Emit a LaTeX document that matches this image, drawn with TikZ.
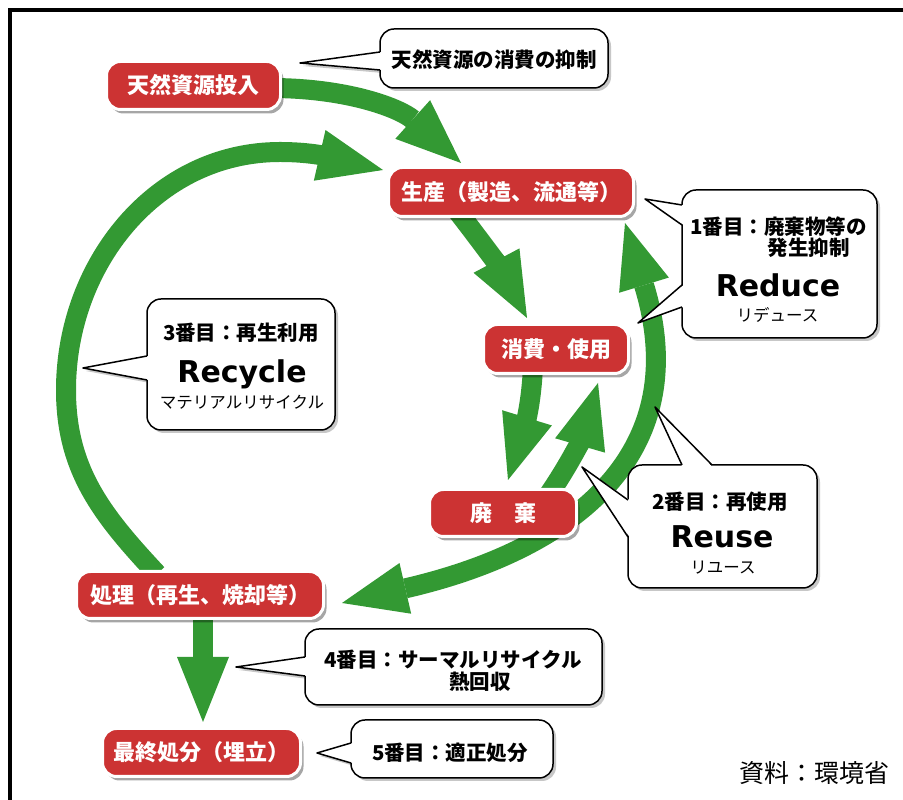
\documentclass[tikz,border=0pt]{standalone}
\usepackage{fontspec}
\newfontfamily\jpfont{Noto Sans CJK JP}
\newfontfamily\latbold{DejaVu Sans}
\usetikzlibrary{arrows.meta,calc,shadows,backgrounds}
\definecolor{boxred}{RGB}{204,51,51}
\definecolor{arrgreen}{RGB}{51,153,51}
\tikzset{gtip/.tip={Triangle[length=65pt,width=52pt,line width=0pt]}}
\begin{document}
\begin{tikzpicture}[x=1pt,y=1pt,
  redbox/.style={draw=white, line width=3pt, fill=boxred, rounded corners=14pt, text=white,
    font=\jpfont\bfseries\fontsize{22}{26}\selectfont, inner sep=0pt,
    drop shadow={shadow xshift=3pt, shadow yshift=-4pt, opacity=0.35, fill=black}},
  ctext/.style={font=\jpfont\bfseries\fontsize{20.5}{24}\selectfont, inner sep=0pt},
  csub/.style={font=\jpfont\fontsize{16.5}{19}\selectfont, inner sep=0pt},
  cbig/.style={font=\latbold\bfseries\fontsize{30}{34}\selectfont, inner sep=0pt, text height=22pt, text depth=0pt},
  cline/.style={draw=black, line width=1.5pt, line join=round},
  cshadow/.style={fill=black!22},
  garrow/.style={draw=arrgreen, line width=20pt, -gtip},
]
\useasboundingbox (0,0) rectangle (903,800);

% red process boxes
\node[redbox, minimum width=174pt, minimum height=48pt] (n1) at (193.5,714.5) {天然資源投入};
\node[redbox, minimum width=245pt, minimum height=49pt] (n2) at (511,608) {生産（製造、流通等）};
\node[redbox, minimum width=145pt, minimum height=49pt] (n3) at (556,451) {消費・使用};
\node[redbox, minimum width=147pt, minimum height=47pt] (n4) at (503,287) {廃　棄};
\node[redbox, minimum width=247pt, minimum height=47pt] (n5) at (200,205) {処理（再生、焼却等）};
\node[redbox, minimum width=198pt, minimum height=48pt] (n6) at (201.5,47.5) {最終処分（埋立）};

% green arrows behind
\begin{scope}[on background layer]
\fill[white] (0,0) rectangle (903,800);
\coordinate (la1) at (66,410);
\coordinate (la2) at (280,648);
\draw[garrow] ($(n1.east)+(-12,-2.5)$) to[out=0,in=138] ($(n2.north)+(-50,3)$);
\draw[garrow] ($(n2.south)+(-56,10)$) to[out=-52,in=118] ($(n3.north)+(-29,5)$);
\draw[garrow] ($(n3.south)+(-23,10)$) to[out=-92,in=73] ($(n4.north)+(5,8)$);
\draw[garrow] ($(n4.north)+(42,-12)$) to[out=55,in=-106] ($(n3.south)+(42,-8)$);
\draw[garrow] ($(n5.north)+(-43,-4)$) to[out=133,in=-90] (la1) to[out=90,in=180] (la2) to[out=0,in=167] ($(n2.north west)+(-4,-4)$);
\draw[garrow, gtip-gtip] ($(n2.south east)+(-10,-5)$) .. controls (695,348) and (576,251) .. ($(n5.east)+(17,-8)$);
\draw[garrow] ($(n5.south)+(3,5)$) -- ($(n6.north)+(1.5,5)$);
\end{scope}

% frame
\draw[line width=4pt, line join=miter] (10,0) -- (10,790) -- (903,790);

% tail tips
\coordinate (t1) at (300,737);
\coordinate (t2a) at (645,601);
\coordinate (t2b) at (638,477);
\coordinate (t3a) at (655,393);
\coordinate (t3b) at (582,333);
\coordinate (t4) at (83,432);
\coordinate (t5) at (236,133);
\coordinate (t6) at (317,47);

% callout shadows
\fill[cshadow,rounded corners=14pt] (383,709) rectangle (611,768);
\fill[cshadow] (303,734) -- (383,727) -- (383,745) -- cycle;
\fill[cshadow,rounded corners=14pt] (685,459) rectangle (880,607);
\fill[cshadow,rounded corners=14pt] (631,209) rectangle (820,332);
\fill[cshadow,rounded corners=14pt] (150,367) rectangle (338,498);
\fill[cshadow] (86,429) -- (150,417) -- (150,441) -- cycle;
\fill[cshadow,rounded corners=14pt] (308,92) rectangle (605,168);
\fill[cshadow] (239,130) -- (308,121) -- (308,140) -- cycle;
\fill[cshadow,rounded corners=14pt] (354,19) rectangle (556,77);
\fill[cshadow] (320,44) -- (354,34) -- (354,54) -- cycle;

% callout boxes
\filldraw[cline,fill=white,rounded corners=14pt] (380,712) rectangle (608,771);
\fill[white] (t1) -- (381.5,730) -- (381.5,748) -- cycle;
\draw[cline] (380,730) -- (t1) -- (380,748);

\filldraw[cline,fill=white,rounded corners=14pt] (682,462) rectangle (877,610);
\fill[white] (t2a) -- (683.5,575) -- (683.5,595) -- cycle;
\draw[cline] (682,575) -- (t2a) -- (682,595);
\fill[white] (t2b) -- (683.5,493) -- (683.5,515) -- cycle;
\draw[cline] (682,493) -- (t2b) -- (682,515);

\filldraw[cline,fill=white,rounded corners=14pt] (628,212) rectangle (817,335);
\fill[white] (t3a) -- (682,333.5) -- (712,333.5) -- cycle;
\draw[cline] (682,335) -- (t3a) -- (712,335);
\fill[white] (t3b) -- (629.5,263) -- (629.5,300) -- cycle;
\draw[cline] (628,263) -- (t3b) -- (628,300);

\filldraw[cline,fill=white,rounded corners=14pt] (147,370) rectangle (335,501);
\fill[white] (t4) -- (148.5,420) -- (148.5,444) -- cycle;
\draw[cline] (147,420) -- (t4) -- (147,444);

\filldraw[cline,fill=white,rounded corners=14pt] (305,95) rectangle (602,171);
\fill[white] (t5) -- (306.5,124) -- (306.5,143) -- cycle;
\draw[cline] (305,124) -- (t5) -- (305,143);

\filldraw[cline,fill=white,rounded corners=14pt] (351,22) rectangle (553,80);
\fill[white] (t6) -- (352.5,37) -- (352.5,57) -- cycle;
\draw[cline] (351,37) -- (t6) -- (351,57);

% callout texts
\node[ctext] (c1t) at (494,740) {天然資源の消費の抑制};

\node[ctext, anchor=west] (c2a) at (690,573) {1番目：廃棄物等の};
\node[ctext, anchor=east] (c2b) at (850,552) {発生抑制};
\node[cbig] (c2c) at (778,514) {Reduce};
\node[csub] (c2d) at (777.5,485) {リデュース};

\node[ctext] (c3a) at (720,298) {2番目：再使用};
\node[cbig] (c3b) at (722,263) {Reuse};
\node[csub] (c3c) at (723,232) {リユース};

\node[ctext] (c4a) at (241,467) {3番目：再生利用};
\node[cbig] (c4b) at (242,428) {Recycle};
\node[csub] (c4c) at (242,398) {マテリアルリサイクル};

\node[ctext] (c5a) at (453,140) {4番目：サーマルリサイクル};
\node[ctext] (c5b) at (480,118) {熱回収};

\node[ctext] (c6a) at (450,47) {5番目：適正処分};

\node[font=\jpfont\fontsize{25}{30}\selectfont, anchor=east, inner sep=0pt] (src) at (890,27) {資料：環境省};
\end{tikzpicture}
\end{document}
